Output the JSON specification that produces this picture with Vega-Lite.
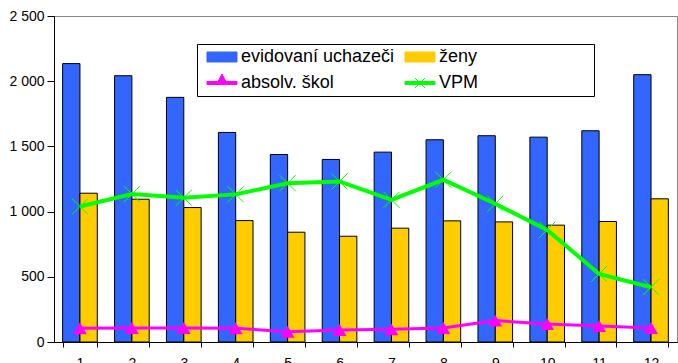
{
  "$schema": "https://vega.github.io/schema/vega-lite/v6.json",
  "width": 623,
  "height": 326,
  "autosize": "none",
  "padding": {"left": 54, "top": 16, "right": 1, "bottom": 21},
  "background": "white",
  "config": {
    "view": {"stroke": "#888888", "strokeWidth": 1},
    "font": "Liberation Sans",
    "axis": {"labelFont": "Liberation Sans", "labelColor": "#000000", "domainColor": "#000000", "tickColor": "#000000", "grid": false, "labelFontSize": 14}
  },
  "data": {
    "values": [
      {"m": 1, "s": "evidovaní uchazeči", "v": 2135},
      {"m": 2, "s": "evidovaní uchazeči", "v": 2042},
      {"m": 3, "s": "evidovaní uchazeči", "v": 1876},
      {"m": 4, "s": "evidovaní uchazeči", "v": 1607},
      {"m": 5, "s": "evidovaní uchazeči", "v": 1438},
      {"m": 6, "s": "evidovaní uchazeči", "v": 1400},
      {"m": 7, "s": "evidovaní uchazeči", "v": 1456},
      {"m": 8, "s": "evidovaní uchazeči", "v": 1551},
      {"m": 9, "s": "evidovaní uchazeči", "v": 1582},
      {"m": 10, "s": "evidovaní uchazeči", "v": 1571},
      {"m": 11, "s": "evidovaní uchazeči", "v": 1620},
      {"m": 12, "s": "evidovaní uchazeči", "v": 2050},
      {"m": 1, "s": "ženy", "v": 1141},
      {"m": 2, "s": "ženy", "v": 1095},
      {"m": 3, "s": "ženy", "v": 1031},
      {"m": 4, "s": "ženy", "v": 931},
      {"m": 5, "s": "ženy", "v": 842},
      {"m": 6, "s": "ženy", "v": 811},
      {"m": 7, "s": "ženy", "v": 873},
      {"m": 8, "s": "ženy", "v": 929},
      {"m": 9, "s": "ženy", "v": 921},
      {"m": 10, "s": "ženy", "v": 896},
      {"m": 11, "s": "ženy", "v": 924},
      {"m": 12, "s": "ženy", "v": 1098},
      {"m": 1, "s": "absolv. škol", "v": 105},
      {"m": 2, "s": "absolv. škol", "v": 108},
      {"m": 3, "s": "absolv. škol", "v": 108},
      {"m": 4, "s": "absolv. škol", "v": 106},
      {"m": 5, "s": "absolv. škol", "v": 79},
      {"m": 6, "s": "absolv. škol", "v": 92},
      {"m": 7, "s": "absolv. škol", "v": 97},
      {"m": 8, "s": "absolv. škol", "v": 107},
      {"m": 9, "s": "absolv. škol", "v": 164},
      {"m": 10, "s": "absolv. škol", "v": 138},
      {"m": 11, "s": "absolv. škol", "v": 123},
      {"m": 12, "s": "absolv. škol", "v": 108},
      {"m": 1, "s": "VPM", "v": 1039},
      {"m": 2, "s": "VPM", "v": 1134},
      {"m": 3, "s": "VPM", "v": 1106},
      {"m": 4, "s": "VPM", "v": 1132},
      {"m": 5, "s": "VPM", "v": 1218},
      {"m": 6, "s": "VPM", "v": 1231},
      {"m": 7, "s": "VPM", "v": 1090},
      {"m": 8, "s": "VPM", "v": 1244},
      {"m": 9, "s": "VPM", "v": 1060},
      {"m": 10, "s": "VPM", "v": 860},
      {"m": 11, "s": "VPM", "v": 522},
      {"m": 12, "s": "VPM", "v": 420}
    ]
  },
  "encoding": {
    "x": {
      "field": "m",
      "type": "ordinal",
      "title": null,
      "scale": {"paddingInner": 0.333, "paddingOuter": 0.1667},
      "axis": {"labelAngle": 0, "tickBand": "extent", "tickSize": 5, "labelPadding": 9, "domainColor": "#000000"}
    },
    "y": {
      "field": "v",
      "type": "quantitative",
      "title": null,
      "scale": {"domain": [0, 2500], "nice": false},
      "axis": {"values": [0, 500, 1000, 1500, 2000, 2500], "tickSize": 7, "labelPadding": 3, "labelExpr": "replace(format(datum.value, ','), ',', ' ')"}
    },
    "color": {
      "field": "s",
      "type": "nominal",
      "scale": {"domain": ["evidovaní uchazeči", "ženy", "absolv. škol", "VPM"], "range": ["#3366FF", "#FFCC00", "#FF00FF", "#00FF00"]},
      "legend": {
        "title": " ",
        "titleOrient": "right",
        "titlePadding": 112,
        "titleFontSize": 1,
        "orient": "none",
        "direction": "horizontal",
        "legendX": 143,
        "legendY": 28,
        "columns": 2,
        "gridAlign": "all",
        "columnPadding": 4,
        "rowPadding": 5,
        "padding": 4,
        "strokeColor": "#000000",
        "fillColor": "#FFFFFF",
        "labelFont": "Liberation Sans",
        "labelFontSize": 18,
        "labelColor": "#000000",
        "labelOffset": 22,
        "labelLimit": 400,
        "symbolSize": 196,
        "symbolOpacity": 1,
        "symbolStrokeWidth": 1,
        "symbolType": {"expr": "datum.value === 'absolv. škol' ? 'M-0.429,-0.214H3.857V0.214H-0.429Z M1.714,-1.286L2.5,0.214L0.929,0.214Z' : datum.value === 'VPM' ? 'M-0.429,-0.214H3.857V0.214H-0.429Z M1,-0.714L2.429,0.714M1,0.714L2.429,-0.714' : 'M-0.429,-0.714H3.857V0.714H-0.429Z'"},
        "symbolStrokeColor": {"expr": "datum.value === 'absolv. škol' ? '#FF00FF' : datum.value === 'VPM' ? '#00FF00' : '#000000'"}
      }
    }
  },
  "layer": [
    {
      "transform": [{"filter": "datum.s === 'evidovaní uchazeči' || datum.s === 'ženy'"}],
      "mark": {"type": "bar", "stroke": "#000000", "strokeWidth": 1, "strokeOpacity": 1},
      "encoding": {
        "xOffset": {"field": "s", "type": "nominal", "sort": ["evidovaní uchazeči", "ženy"], "scale": {"paddingInner": 0, "paddingOuter": 0}}
      }
    },
    {
      "transform": [{"filter": "datum.s === 'VPM'"}],
      "mark": {"type": "line", "strokeWidth": 4},
      "encoding": {}
    },
    {
      "transform": [{"filter": "datum.s === 'absolv. škol'"}],
      "mark": {"type": "line", "strokeWidth": 3},
      "encoding": {}
    },
    {
      "transform": [{"filter": "datum.s === 'VPM'"}],
      "mark": {"type": "point", "shape": "M-1,-1L1,1M-1,1L1,-1", "filled": false, "strokeWidth": 1, "size": 256, "opacity": 1},
      "encoding": {}
    },
    {
      "transform": [{"filter": "datum.s === 'absolv. škol'"}],
      "mark": {"type": "point", "shape": "triangle-up", "filled": true, "size": 190, "opacity": 1},
      "encoding": {}
    }
  ]
}
